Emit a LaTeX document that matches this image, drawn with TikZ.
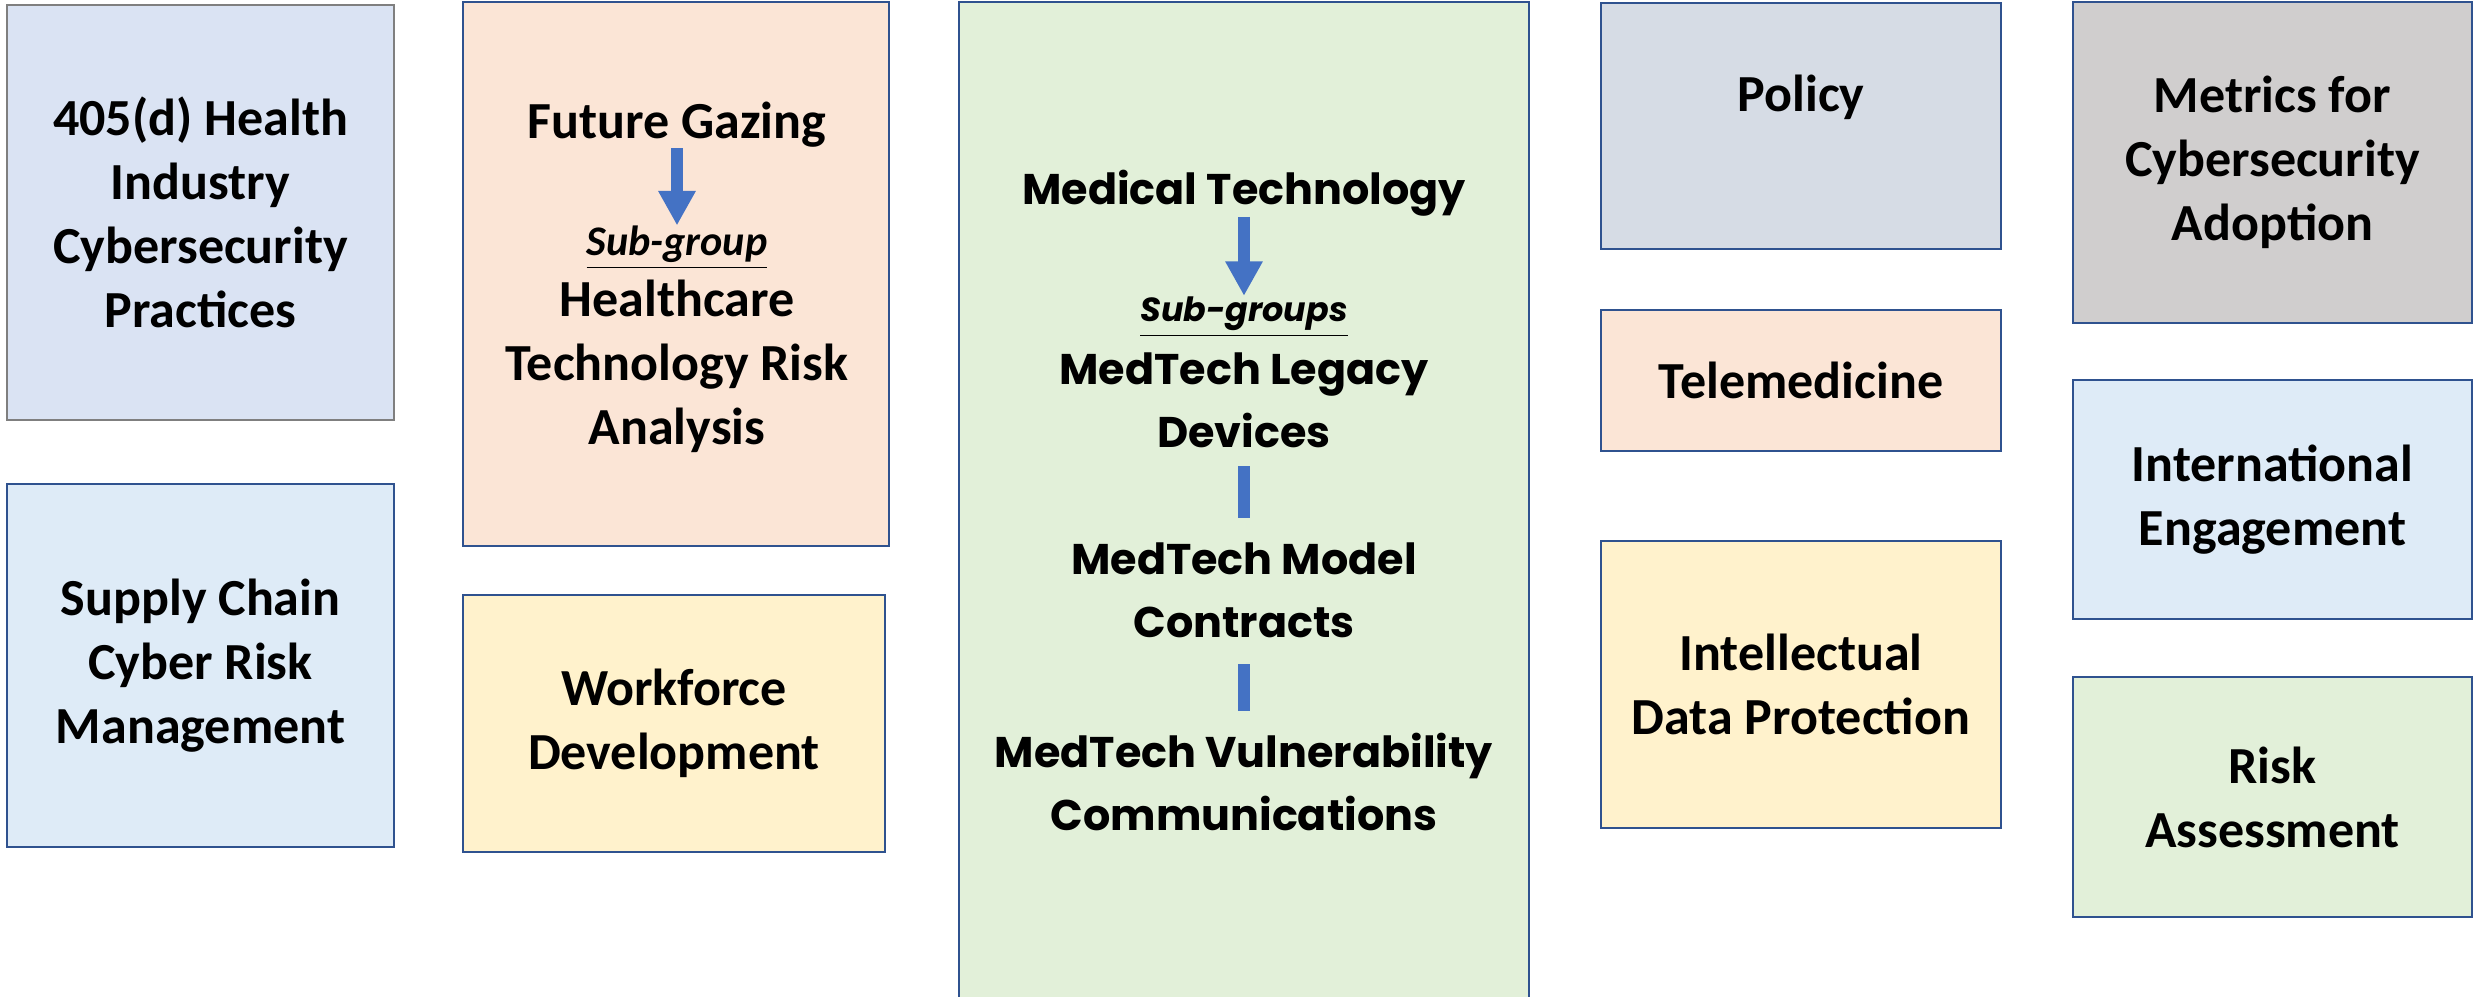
\documentclass[tikz,border=0pt]{standalone}
\usepackage{fontspec}
\setmainfont{Carlito}
\newfontfamily\gothic{Poppins}
\usetikzlibrary{arrows.meta}

\definecolor{edgeblue}{HTML}{2F528F}
\definecolor{edgegray}{HTML}{7F7F7F}
\definecolor{arrowblue}{HTML}{4472C4}
\definecolor{paleblue}{HTML}{DAE3F3}
\definecolor{skyblue}{HTML}{DEEBF7}
\definecolor{peach}{HTML}{FBE5D6}
\definecolor{cream}{HTML}{FFF2CC}
\definecolor{mint}{HTML}{E2F0D9}
\definecolor{slate}{HTML}{D6DCE5}
\definecolor{stone}{HTML}{D0CECE}

\begin{document}
\begin{tikzpicture}[x=0.01cm, y=-0.01cm,
    box/.style={draw=edgeblue, line width=0.6pt, inner sep=0pt, align=center,
      font=\fontsize{14.8}{18.2}\selectfont\bfseries},
    txt/.style={inner sep=0pt, align=center, font=\fontsize{14.8}{18.2}\selectfont\bfseries},
    gtxt/.style={inner sep=0pt, align=center, font=\gothic\fontsize{12.2}{17.9}\selectfont\bfseries},
    subtag/.style={inner sep=0pt, font=\fontsize{12}{14}\selectfont\bfseries\itshape},
    gsubtag/.style={inner sep=0pt, font=\gothic\fontsize{9.5}{12}\selectfont\bfseries\itshape},
    bigarrow/.style={draw=arrowblue, line width=3.4pt, -{Triangle[width=10pt,length=9.8pt]}},
    bar/.style={draw=arrowblue, line width=3.4pt}
    ]

\useasboundingbox[fill=white] (0,0) rectangle (2474,997);

% first column
\node[box, draw=edgegray, fill=paleblue, minimum width=3.87cm, minimum height=4.15cm]
  (hicp) at (200.5,212.5) {405(d) Health\\Industry\\Cybersecurity\\Practices};
\node[box, fill=skyblue, minimum width=3.87cm, minimum height=3.63cm]
  (supply) at (200.5,665.5) {Supply Chain\\Cyber Risk\\Management};

% second column
\node[box, fill=peach, minimum width=4.26cm, minimum height=5.44cm] (future) at (676,274) {};
\node[box, fill=cream, minimum width=4.22cm, minimum height=2.57cm]
  (workforce) at (674,723.5) {Workforce\\Development};

\node[txt] (gazing) at (677,125) {Future Gazing};
\node[subtag] (subgrp) at (677,248) {\underline{Sub-group}};
\node[txt] (htra) at (677,366) {Healthcare\\Technology Risk\\Analysis};
\draw[bigarrow] (gazing) -- (subgrp);

% medical technology column
\node[box, fill=mint, minimum width=5.70cm, minimum height=10cm] (medtech) at (1244,502) {};

\node[gtxt] (medical) at (1244,193) {Medical Technology};
\node[gsubtag] (subgrps) at (1244,317) {\underline{Sub-groups}};
\node[gtxt] (legacy) at (1244,400) {MedTech Legacy\\Devices};
\node[gtxt] (model) at (1244,590) {MedTech Model\\Contracts};
\node[gtxt] (vuln) at (1244,782) {MedTech Vulnerability\\Communications};
\draw[bigarrow] (medical) -- (subgrps);
\draw[bar, shorten <=0.18cm, shorten >=0.24cm] (legacy) -- (model);
\draw[bar, shorten <=0.26cm, shorten >=0.21cm] (model) -- (vuln);

% fourth column
\node[box, fill=slate, minimum width=4cm, minimum height=2.46cm] (policy) at (1801,126) {};
\node[txt] (policytxt) at (1801,97) {Policy};
\node[box, fill=peach, minimum width=4cm, minimum height=1.41cm]
  (tele) at (1801,380.5) {Telemedicine};
\node[box, fill=cream, minimum width=4cm, minimum height=2.87cm]
  (intel) at (1801,684.5) {Intellectual\\Data Protection};

% fifth column
\node[box, fill=stone, minimum width=3.99cm, minimum height=3.21cm]
  (metrics) at (2272.5,162.5) {Metrics for\\Cybersecurity\\Adoption};
\node[box, fill=skyblue, minimum width=3.99cm, minimum height=2.39cm]
  (intl) at (2272.5,499.5) {International\\Engagement};
\node[box, fill=mint, minimum width=3.99cm, minimum height=2.40cm]
  (risk) at (2272.5,797) {Risk\\Assessment};

\end{tikzpicture}
\end{document}
